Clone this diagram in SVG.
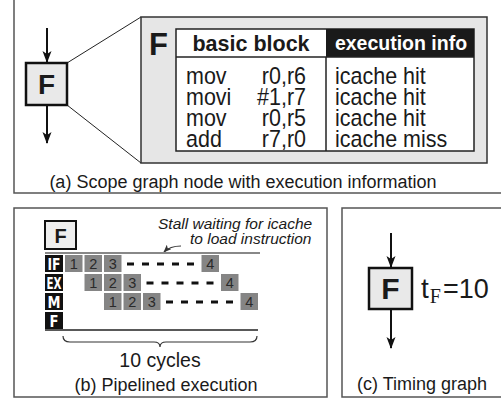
<svg xmlns="http://www.w3.org/2000/svg" width="501" height="400" viewBox="0 0 501 400">
  <style>
    text { font-family: "Liberation Sans", Arial, sans-serif; fill: #1a1a1a; }
    .frame { fill: #fff; stroke: #555; stroke-width: 1.5; }
    .caption { font-size: 18px; }
    .node { fill: #e9e9e9; stroke: #111; stroke-width: 2.5; }
    .nodelbl { font-weight: bold; text-anchor: middle; }
    .edge { stroke: #111; stroke-width: 2; fill: none; }
    .row { font-size: 21.5px; }
    .cell { fill: #858585; }
    .num { font-size: 14.5px; text-anchor: middle; fill: #2a2a2a; }
    .stage { fill: #111; }
    .stagelbl { font-family: "Liberation Sans Narrow", "DejaVu Sans Condensed", sans-serif; font-weight: bold; font-size: 16px; fill: #fff; text-anchor: middle; }
    .dash { stroke: #111; stroke-width: 3; }
  </style>
  <defs>
    <marker id="arrow" viewBox="0 0 12 10" refX="11" refY="5" markerWidth="12" markerHeight="10" markerUnits="userSpaceOnUse" orient="auto">
      <path d="M0,0.5 L12,5 L0,9.5 L3,5 z" fill="#111"/>
    </marker>
    <marker id="arrowSmall" viewBox="0 0 10 8" refX="9" refY="4" markerWidth="8" markerHeight="7" markerUnits="userSpaceOnUse" orient="auto">
      <path d="M0,0 L10,4 L0,8 L2.5,4 z" fill="#333"/>
    </marker>
  </defs>

  <!-- (a) scope graph node -->
  <g id="panel-a">
    <rect class="frame" x="14" y="-2" width="495" height="195"/>
    <g id="connectors-a">
      <line class="edge" x1="47" y1="28" x2="47" y2="62" marker-end="url(#arrow)"/>
      <line class="edge" x1="47" y1="105" x2="47" y2="143" marker-end="url(#arrow)"/>
      <line x1="67" y1="63" x2="141" y2="17" stroke="#222" stroke-width="1"/>
      <line x1="67" y1="105" x2="141" y2="163" stroke="#222" stroke-width="1"/>
    </g>
    <g id="node-F-a">
      <rect class="node" x="26" y="63" width="41" height="42"/>
      <text class="nodelbl" x="46.5" y="94" font-size="28">F</text>
    </g>
    <g id="detail">
      <rect x="141" y="17" width="346" height="146" fill="#e6e6e6" stroke="#333" stroke-width="1.5"/>
      <text x="149" y="55" font-size="31" font-weight="bold">F</text>
      <rect x="176" y="29" width="298" height="122" fill="#fff" stroke="#222" stroke-width="1.5"/>
      <rect x="326" y="29" width="148" height="28" fill="#1a1a1a"/>
      <line x1="176" y1="57" x2="474" y2="57" stroke="#222" stroke-width="1.5"/>
      <line x1="326" y1="57" x2="326" y2="151" stroke="#222" stroke-width="1.5"/>
      <text x="251" y="51" font-size="21.5" font-weight="bold" text-anchor="middle">basic block</text>
      <text x="401" y="50" font-size="19.5" font-weight="bold" text-anchor="middle" style="fill:#fff">execution info</text>
      <!-- instruction rows: slightly tall lettering -->
      <g class="row">
        <text transform="translate(186,84) scale(1,1.12)">mov</text>
        <text transform="translate(306,84) scale(1,1.12)" text-anchor="end">r0,r6</text>
        <text transform="translate(335,84) scale(1,1.12)">icache hit</text>
        <text transform="translate(186,105) scale(1,1.12)">movi</text>
        <text transform="translate(306,105) scale(1,1.12)" text-anchor="end">#1,r7</text>
        <text transform="translate(335,105) scale(1,1.12)">icache hit</text>
        <text transform="translate(186,126) scale(1,1.12)">mov</text>
        <text transform="translate(306,126) scale(1,1.12)" text-anchor="end">r0,r5</text>
        <text transform="translate(335,126) scale(1,1.12)">icache hit</text>
        <text transform="translate(186,147) scale(1,1.12)">add</text>
        <text transform="translate(306,147) scale(1,1.12)" text-anchor="end">r7,r0</text>
        <text transform="translate(335,147) scale(1,1.12)">icache miss</text>
      </g>
    </g>
    <text class="caption" x="243" y="188" text-anchor="middle">(a) Scope graph node with execution information</text>
  </g>

  <!-- (b) pipelined execution -->
  <g id="panel-b">
    <rect class="frame" x="14" y="208" width="313" height="189"/>
    <g id="node-F-b">
      <rect x="45" y="221" width="31" height="28" fill="#eee" stroke="#111" stroke-width="2"/>
      <text class="nodelbl" x="60.5" y="243" font-size="20">F</text>
    </g>
    <text x="158" y="229" font-size="15.5" font-style="italic">Stall waiting for icache</text>
    <text x="190" y="244" font-size="15.5" font-style="italic">to load instruction</text>
    <path d="M181,246 Q170,246 164,252" fill="none" stroke="#333" stroke-width="1.2" marker-end="url(#arrowSmall)"/>

    <line x1="45" y1="253" x2="260" y2="253" stroke="#888" stroke-width="2"/>
    <line x1="45" y1="330" x2="258" y2="330" stroke="#222" stroke-width="1.5"/>

    <!-- stage labels -->
    <g id="stages">
      <rect class="stage" x="45" y="255" width="18" height="17"/>
      <rect class="stage" x="45" y="274" width="18" height="17"/>
      <rect class="stage" x="45" y="293" width="18" height="17"/>
      <rect class="stage" x="45" y="312" width="18" height="17"/>
      <text class="stagelbl" x="54" y="270" textLength="13" lengthAdjust="spacingAndGlyphs">IF</text>
      <text class="stagelbl" x="54" y="289" textLength="15" lengthAdjust="spacingAndGlyphs">EX</text>
      <text class="stagelbl" x="54" y="308" textLength="13" lengthAdjust="spacingAndGlyphs">M</text>
      <text class="stagelbl" x="54" y="327" textLength="9" lengthAdjust="spacingAndGlyphs">F</text>
    </g>

    <!-- IF row -->
    <g id="row-IF">
      <rect class="cell" x="65" y="255" width="17.5" height="17"/>
      <rect class="cell" x="84.5" y="255" width="17.5" height="17"/>
      <rect class="cell" x="104" y="255" width="17.5" height="17"/>
      <rect class="cell" x="201.5" y="255" width="17.5" height="17"/>
      <text class="num" x="73.8" y="268.5">1</text>
      <text class="num" x="93.3" y="268.5">2</text>
      <text class="num" x="112.8" y="268.5">3</text>
      <text class="num" x="210.3" y="268.5">4</text>
      <path class="dash" d="M127,264h7M142,264h7M157,264h7M172,264h7M187,264h7"/>
    </g>
    <!-- EX row -->
    <g id="row-EX">
      <rect class="cell" x="84.5" y="274" width="17.5" height="17"/>
      <rect class="cell" x="104" y="274" width="17.5" height="17"/>
      <rect class="cell" x="123.5" y="274" width="17.5" height="17"/>
      <rect class="cell" x="221" y="274" width="17.5" height="17"/>
      <text class="num" x="93.3" y="287.5">1</text>
      <text class="num" x="112.8" y="287.5">2</text>
      <text class="num" x="132.3" y="287.5">3</text>
      <text class="num" x="229.8" y="287.5">4</text>
      <path class="dash" d="M146.5,283h7M161.5,283h7M176.5,283h7M191.5,283h7M206.5,283h7"/>
    </g>
    <!-- M row -->
    <g id="row-M">
      <rect class="cell" x="104" y="293" width="17.5" height="17"/>
      <rect class="cell" x="123.5" y="293" width="17.5" height="17"/>
      <rect class="cell" x="143" y="293" width="17.5" height="17"/>
      <rect class="cell" x="240.5" y="293" width="17.5" height="17"/>
      <text class="num" x="112.8" y="306.5">1</text>
      <text class="num" x="132.3" y="306.5">2</text>
      <text class="num" x="151.8" y="306.5">3</text>
      <text class="num" x="249.3" y="306.5">4</text>
      <path class="dash" d="M166,302h7M181,302h7M196,302h7M211,302h7M226,302h7"/>
    </g>

    <!-- brace spanning the ten cycles -->
    <path d="M63,336 Q63,342 70,342 L154,342 Q160,342 160,347 Q160,342 166,342 L250,342 Q257,342 257,336" fill="none" stroke="#333" stroke-width="1.2"/>
    <text x="160" y="367" font-size="19.5" text-anchor="middle">10 cycles</text>
    <text class="caption" x="166" y="391" text-anchor="middle">(b) Pipelined execution</text>
  </g>

  <!-- (c) timing graph -->
  <g id="panel-c">
    <rect class="frame" x="342" y="208" width="170" height="189"/>
    <g id="connectors-c">
      <line class="edge" x1="391" y1="233" x2="391" y2="267" marker-end="url(#arrow)"/>
      <line class="edge" x1="391" y1="309" x2="391" y2="348" marker-end="url(#arrow)"/>
    </g>
    <g id="node-F-c">
      <rect class="node" x="369" y="268" width="43" height="41"/>
      <text class="nodelbl" x="390.5" y="299" font-size="30">F</text>
    </g>
    <text x="421" y="298" font-size="28">t<tspan font-family="'Liberation Serif', 'Times New Roman', serif" font-size="20" dx="1" dy="5">F</tspan><tspan font-size="27" dx="2" dy="-5">=10</tspan></text>
    <text class="caption" x="422" y="390" text-anchor="middle">(c) Timing graph</text>
  </g>
</svg>
